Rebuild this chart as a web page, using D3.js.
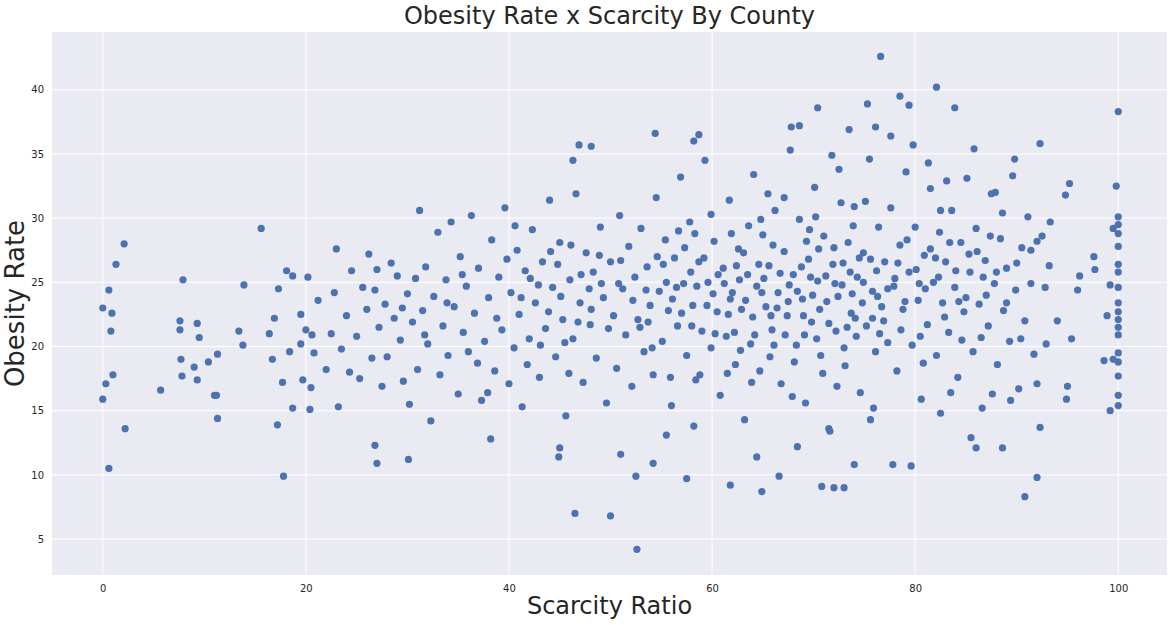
<!DOCTYPE html>
<html>
<head>
<meta charset="utf-8">
<script src="https://d3js.org/d3.v7.min.js"></script>
<style>
  body { margin: 0; background: #fff; }
  text { font-family: "DejaVu Sans", sans-serif; }
</style>
</head>
<body>
<svg width="1175" height="625"></svg>
<script>
// points (scarcity ratio, obesity rate)
var leftCounties = [
  [0,23],[0,15.9],[0.3,17.1],[0.6,10.5],[0.6,24.4],[0.8,21.2],[0.9,22.6],[1,17.8],[1.3,26.4],[2.1,28],[2.2,13.6],
  [5.7,16.6],[7.6,22],[7.6,21.3],[7.7,19],[7.8,17.7],[7.9,25.2],[9,18.4],[9.3,21.8],[9.3,17.4],[9.5,20.7],
  [10.4,18.8],[11,16.2],[11.2,16.2],[11.3,14.4],[11.3,19.4],[13.4,21.2],[13.8,20.1],[13.9,24.8],[15.6,29.2],
  [16.4,21],[16.7,19],[16.9,22.2],[17.2,13.9],[17.3,24.5],[17.7,17.2],[17.8,9.9],[18.1,25.9],[18.4,19.6],
  [18.7,15.2],[18.7,25.5],[19.5,20.2],[19.5,22.5],[19.7,17.4],[20,21.3],[20.2,25.4],[20.4,15.1],[20.5,16.8],
  [20.6,20.9],[20.8,19.5],[21.2,23.6]
];
var outlierCounties = [
  [46.5,7],[50,6.8],[52.6,4.2],[26.8,12.3],[27,10.9],[30.1,11.2],[57.5,9.7],[61.8,9.2],[64.9,8.7],[70.8,9.1],
  [72,9],[73,9],[74,10.8],[77.8,10.8],[79.6,10.7],[90.8,8.3],[92,9.8],[51,11.6],[52.5,9.9],[54.2,10.9],
  [44.9,11.4],[45,12.1],[38.2,12.8],[76.6,42.6],[82.1,40.2],[78.5,39.5],[79.4,38.8],[83.9,38.6],[75.3,38.9],
  [70.4,38.6],[100,38.3],[54.4,36.6],[58.7,36.5],[58.2,36],[48.1,35.6],[46.9,35.7],[46.3,34.5],[67.8,37.1],
  [68.6,37.2],[76.1,37.1],[73.5,36.9],[77.6,36.4],[92.3,35.8],[99.8,32.5],[64.4,11.4],[66.6,9.9],[68.4,12.2],
  [71.5,13.6],[75.6,14.3],[82.5,14.8],[85.5,12.9],[86,12.1],[88.6,12.1],[92.3,13.7],[58.2,13.8],[55.5,13.1]
];
var edgeCounties = [
  [100,30.1],[100,29.5],[100,28.8],[100,27.8],[100,26.4],[100,25.8],[100,24.6],[100,23.4],[100,22.7],[100,22.1],
  [100,21.5],[100,20.9],[100,19.5],[100,18.8],[100,17.7],[100,16.2],[100,15.4],[99.5,29.2],[99.2,24.8],[99.2,15],
  [99.5,19],[98.9,22.4],[98.6,18.9],[97.6,27],[97.7,26],[96.2,25.5],[96,24.4],[95.4,20.6],[95,16.9],[94.9,15.9],
  [95.2,32.7],[94.8,31.8],[94,22],[93.3,29.7],[93.2,26.3],[92.9,20.2],[92.8,24.6],[92.5,28.6],[92,17.1],[91.4,27.5]
];
var westCounties = [
  [22,18.2],[22.5,21],[22.8,24.2],[23,27.6],[23.2,15.3],[23.5,19.8],[24,22.4],[24.5,25.9],[25,20.8],[25.3,17.5],
  [25.6,24.6],[26,22.9],[26.2,27.2],[26.5,19.1],[26.8,24.4],[27.2,21.5],[27.5,16.9],[27.8,23.3],[28,19.2],[28.4,26.5],
  [28.7,22.2],[29,25.5],[29.3,20.5],[29.6,17.3],[30,24.1],[30.2,15.5],[30.5,21.9],[30.8,25.3],[31,18.2],[31.2,30.6],
  [31.5,22.8],[31.8,26.2],[32,20.2],[32.3,14.2],[32.6,23.9],[33,28.9],[33.2,17.8],[33.5,21.6],[33.8,25.2],[34,19.3],
  [34.3,29.7],[34.6,23.1],[35,16.3],[35.2,27],[35.5,21.1],[35.8,24.7],[36,19.6],[36.3,30.2],[36.6,22.6],[37,26.1],
  [37.3,15.8],[37.6,20.4],[38,23.8],[38.3,28.3],[38.6,18.1],[39,25.4],[39.3,21.3],[39.6,30.8],[40,17.1],[40.2,24.2],
  [40.5,19.9],[40.8,27.5],[41,22.5],[41.3,15.3],[41.6,25.9],[42,20.6],[42.3,29.1],[42.6,23.4],[43,17.6],[43.3,26.6],
  [43.6,21.4],[44,31.4],[44.3,24.6],[44.6,19.2],[45,28.1],[45.3,22.1],[45.6,14.6],[46,25.2],[46.3,20.6],[46.6,31.9],
  [47,23.4],[47.3,17.2],[47.6,27.3],[48,21.7],[48.3,25.8],[48.6,19.1],[49,29.3],[49.3,23.8],[49.6,15.6],[50,26.6],
  [24.3,18],[27,26],[29.5,23],[31.7,20.9],[33.9,23.4],[35.4,25.6],[36.9,18.7],[38.8,22.2],[39.8,26.8],[41.8,18.6],
  [42.9,24.8],[44.8,26.4],[45.9,17.9],[47.9,24.5],[48.9,27.1],[49.8,21.4],[37.9,16.4],[40.6,29.4],[43.9,22.7],[46.8,21.9],
  [41.2,23.8],[42.1,25.3],[43.1,20.1],[44.1,27.4],[45.1,23.9],[46.1,27.9],[47.1,25.6],[48.1,22.9],[49.1,24.9],[45.5,20.3]
];
var centralCounties = [
  [50.3,22.4],[50.6,18.3],[50.9,30.2],[51.2,24.5],[51.5,20.9],[51.8,27.8],[52.1,16.9],[52.4,25.4],[52.7,22.1],[53,29.2],
  [53.3,19.6],[53.6,26.2],[53.9,23.2],[54.2,17.8],[54.5,31.6],[54.8,24.3],[55.1,20.4],[55.4,28.3],[55.7,22.8],[56,15.4],
  [56.3,26.9],[56.6,21.6],[56.9,33.2],[57.2,24.9],[57.5,19.3],[57.8,29.7],[58.1,23.2],[58.4,17.4],[58.7,26.6],[59,21.2],
  [59.3,34.5],[59.6,25],[59.9,19.9],[60.2,28.2],[60.5,22.7],[60.8,16.2],[61.1,26.1],[61.4,20.8],[61.7,31.4],[62,24.2],
  [62.3,18.6],[62.6,27.6],[62.9,22.9],[63.2,14.3],[63.5,25.6],[63.8,20.2],[64.1,33.4],[64.4,24.7],[64.7,18.1],[65,28.7],
  [65.3,23.1],[65.6,26.3],[65.9,21.3],[66.2,30.6],[66.5,24.2],[66.8,17.1],[67.1,27.4],[67.4,22.4],[67.7,35.3],[68,25.6],
  [68.3,20.1],[68.6,29.9],[68.9,23.7],[69.2,15.6],[69.5,26.8],[69.8,21.9],[70.1,32.4],[70.4,25.1],[70.7,19.3],[71,28.6],
  [71.3,23.5],[71.6,13.4],[71.9,26.4],[72.2,21.2],[72.5,33.8],[72.8,24.8],[73.1,18.5],[73.4,28.1],[73.7,22.6],[74,30.9],
  [74.3,25.4],[74.6,16.4],[74.9,27.3],[75.2,21.6],[75.5,34.6],[75.8,24.3],[76.1,19.6],[76.4,29.3],[76.7,23.1],[77,26.6],
  [51,26.7],[52.9,21.5],[54.6,27],[56.1,23.7],[57.9,25.8],[59.5,23.2],[61.2,24.9],[62.7,25.2],[64,22.3],[65.1,25.3],
  [66.4,23],[67.6,24.8],[68.8,26.2],[69.9,24],[71.2,25.5],[72.4,23.9],[73.6,25.8],[74.8,23.4],[76.2,25.9],[77.3,24.5],
  [60.1,24.1],[61.6,22.5],[63.1,27.3],[64.6,26.4],[66,27.9],[67.2,20.9],[69,22.4],[70.5,27.6],[72,27.7],[73.3,21.5],
  [74.5,26.9],[75.8,22.2],[55.5,25],[57,22.6],[58.5,24.7],[53.5,24.4],[62.2,21.1],[65.7,19.2],[68.1,18.8],[70.9,17.9],
  [73,19.9],[76.5,21],[59.9,30.3],[63.6,29.4],[67.1,31.6],[70.2,30.1],[72.7,31.2],[75.1,31.3],[57.3,27.7],[61.9,28.8],
  [54.1,19.9],[58.8,17.8],[63.9,17.2],[67.9,16.1],[72.3,16.9],[75.9,15.2],[56.7,29],[69.3,28.2],[65.5,31.9],[71.8,34.9],
  [50.8,24.9],[52.2,23.6],[53.7,21.9],[55.2,26.4],[56.5,24.6],[58,21.6],[59.2,26.9],[60.6,25.6],[61.8,23.7],[62.4,26.3],
  [63.3,23.6],[64.2,20.9],[64.9,24.2],[65.8,22.4],[66.7,25.7],[67.5,23.5],[68.4,24.3],[69.1,20.9],[69.7,25.4],[70.6,22.9],
  [71.5,21.8],[72.1,24.9],[72.9,26.5],[73.8,24.1],[74.1,22.2],[74.9,25],[75.6,26.8],[76.3,23.9],[76.9,22],[60.3,21],
  [62.8,19.7],[66.1,20.1],[70.3,20.6],[74.2,20.8],[58.3,28.8],[64.8,29.9],[69.6,29.1],[73.9,29.4],[55.9,17.6],[61.5,17.9]
];
var eastCounties = [
  [77.3,20.3],[77.6,30.8],[77.9,24.7],[78.2,18.1],[78.5,27.9],[78.8,22.9],[79.1,33.6],[79.4,25.8],[79.7,20.1],[80,29.3],
  [80.3,23.6],[80.6,15.9],[80.9,27.1],[81.2,21.7],[81.5,32.3],[81.8,25],[82.1,19.3],[82.4,28.9],[82.7,23.4],[83,26.6],
  [83.3,21.1],[83.6,30.6],[83.9,24.6],[84.2,17.6],[84.5,28.1],[84.8,22.7],[85.1,33.1],[85.4,25.8],[85.7,19.6],[86,29.2],
  [86.3,23.3],[86.6,15.2],[86.9,26.7],[87.2,21.6],[87.5,31.9],[87.8,24.9],[88.1,18.6],[88.4,28.4],[88.7,22.8],[89,26.1],
  [89.3,20.4],[89.6,33.3],[89.9,24.4],[90.2,16.7],[90.5,27.7],[90.8,22],[91.1,30.1],[91.4,24.9],[91.7,19.4],[92,28.2],
  [78,25.3],[79,23.5],[80.1,26],[81,24.5],[82,26.9],[82.9,22.3],[84,25.9],[85,23.8],[86.1,27.4],[87,24],
  [88,25.8],[89,23.4],[90,26.5],[78.6,21.3],[80.5,20.8],[82.5,30.6],[84.6,20.5],[86.5,20.7],[88.6,30.4],[90.4,20.6],
  [79.8,35.7],[81.3,34.3],[83.1,32.9],[85.8,35.4],[87.9,32],[89.8,34.6],[80.8,18.7],[83.5,16.4],[87.6,16.3],[89.4,15.8],
  [78.3,26.5],[79.2,28.3],[80.4,24.9],[81.5,27.6],[82.3,25.4],[83.4,28.1],[84.3,23.5],[85.3,27.2],[86.7,25.4],[87.4,28.6]
];

var counties = leftCounties.concat(outlierCounties, edgeCounties, westCounties, centralCounties, eastCounties);
var xTicks = [0, 20, 40, 60, 80, 100];
var yTicks = [5, 10, 15, 20, 25, 30, 35, 40];

var svg = d3.select("svg"),
    margin = { top: 32, right: 8, bottom: 50, left: 52 },
    width = 1175 - margin.left - margin.right,
    height = 625 - margin.top - margin.bottom;

var x = d3.scaleLinear().domain([-5, 104.8]).range([0, width]);
var y = d3.scaleLinear().domain([2.2, 44.5]).range([height, 0]);

var g = svg.append("g").attr("transform", "translate(" + margin.left + "," + margin.top + ")");

g.append("rect").attr("width", width).attr("height", height).attr("fill", "#eaeaf2");

g.selectAll(".gx").data(xTicks).enter().append("line")
    .attr("x1", d => x(d)).attr("x2", d => x(d)).attr("y1", 0).attr("y2", height)
    .attr("stroke", "#fff").attr("stroke-width", 1);
g.selectAll(".gy").data(yTicks).enter().append("line")
    .attr("y1", d => y(d)).attr("y2", d => y(d)).attr("x1", 0).attr("x2", width)
    .attr("stroke", "#fff").attr("stroke-width", 1);

g.append("g").attr("transform", "translate(0," + height + ")")
    .call(d3.axisBottom(x).tickValues(xTicks).tickSize(0).tickPadding(10))
    .call(a => a.select(".domain").remove())
    .selectAll("text").attr("font-size", 10).attr("fill", "#262626");
g.append("g")
    .call(d3.axisLeft(y).tickValues(yTicks).tickSize(0).tickPadding(8))
    .call(a => a.select(".domain").remove())
    .selectAll("text").attr("font-size", 10).attr("fill", "#262626");

g.selectAll("circle").data(counties).enter().append("circle")
    .attr("cx", d => x(d[0])).attr("cy", d => y(d[1])).attr("r", 3.6)
    .attr("fill", "#4c72b0");

svg.append("text").attr("x", margin.left + width / 2).attr("y", 24)
    .attr("text-anchor", "middle").attr("font-size", 24).attr("fill", "#262626")
    .text("Obesity Rate x Scarcity By County");
svg.append("text").attr("x", margin.left + width / 2).attr("y", 614)
    .attr("text-anchor", "middle").attr("font-size", 24).attr("fill", "#262626")
    .text("Scarcity Ratio");
svg.append("text").attr("transform", "translate(24," + (margin.top + height / 2) + ") rotate(-90)")
    .attr("text-anchor", "middle").attr("font-size", 26).attr("fill", "#262626")
    .text("Obesity Rate");
</script>
</body>
</html>
